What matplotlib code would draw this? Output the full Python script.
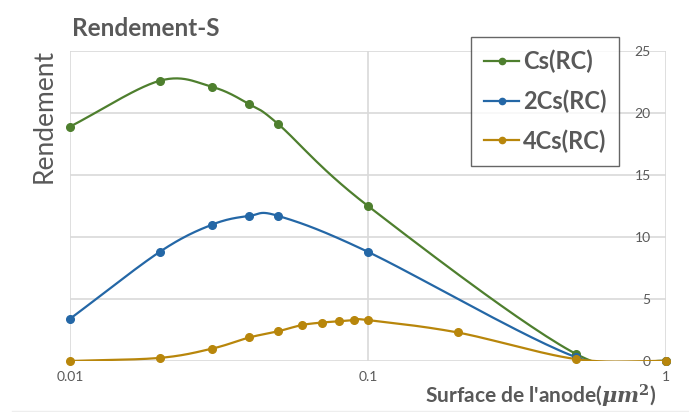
import numpy as np
import matplotlib
matplotlib.use("Agg")
import matplotlib.pyplot as plt
from matplotlib.lines import Line2D

# ---- data ----
x_cs = [0.01, 0.02, 0.03, 0.04, 0.05, 0.1, 0.5, 1.0]
y_cs = [18.9, 22.6, 22.1, 20.7, 19.1, 12.5, 0.56, 0.0]

x_2cs = [0.01, 0.02, 0.03, 0.04, 0.05, 0.1, 0.5, 1.0]
y_2cs = [3.4, 8.8, 11.0, 11.7, 11.7, 8.8, 0.3, 0.0]

x_4cs = [0.01, 0.02, 0.03, 0.04, 0.05, 0.06, 0.07, 0.08, 0.09, 0.1, 0.2, 0.5, 1.0]
y_4cs = [0.0, 0.25, 1.0, 1.9, 2.4, 2.9, 3.1, 3.2, 3.3, 3.3, 2.3, 0.15, 0.0]

series_names = ["Cs(RC)", "2Cs(RC)", "4Cs(RC)"]
colors = ["#4E7F2E", "#2467A6", "#B8860B"]
yticks = [0, 5, 10, 15, 20, 25]
xticks = [0.01, 0.1, 1]
xtick_labels = ["0.01", "0.1", "1"]

GRAY = "#595959"
FONT = ["Lato", "DejaVu Sans"]
plt.rcParams["mathtext.fontset"] = "dejavuserif"


def smooth(xs, ys, n=30):
    """Catmull-Rom smoothing (like Excel smoothed lines) in log-x space."""
    lx = np.log10(np.asarray(xs, float))
    yv = np.asarray(ys, float)
    px = np.concatenate([[2 * lx[0] - lx[1]], lx, [2 * lx[-1] - lx[-2]]])
    py = np.concatenate([[2 * yv[0] - yv[1]], yv, [2 * yv[-1] - yv[-2]]])
    ox, oy = [], []
    t = np.linspace(0, 1, n)
    for i in range(1, len(px) - 2):
        p0x, p1x, p2x, p3x = px[i - 1:i + 3]
        p0y, p1y, p2y, p3y = py[i - 1:i + 3]
        c1x = p1x + (p2x - p0x) / 6
        c1y = p1y + (p2y - p0y) / 6
        c2x = p2x - (p3x - p1x) / 6
        c2y = p2y - (p3y - p1y) / 6
        bx = (1 - t) ** 3 * p1x + 3 * (1 - t) ** 2 * t * c1x + 3 * (1 - t) * t ** 2 * c2x + t ** 3 * p2x
        by = (1 - t) ** 3 * p1y + 3 * (1 - t) ** 2 * t * c1y + 3 * (1 - t) * t ** 2 * c2y + t ** 3 * p2y
        ox.extend(bx)
        oy.extend(by)
    return 10 ** np.array(ox), np.array(oy)


fig = plt.figure(figsize=(6.89, 4.12), dpi=100)
ax = fig.add_axes([70 / 689, 1 - 361 / 412, 596 / 689, 310 / 412])

for xs, ys, c in zip([x_cs, x_2cs, x_4cs], [y_cs, y_2cs, y_4cs], colors):
    sx, sy = smooth(xs, ys)
    ax.plot(sx, sy, color=c, lw=1.6, zorder=3)
    ax.plot(xs, ys, ls="none", marker="o", ms=5.5, color=c, zorder=4, clip_on=False)

ax.set_xscale("log")
ax.set_xlim(0.01, 1)
ax.set_ylim(0, 25)
ax.set_xticks(xticks)
ax.set_xticklabels(xtick_labels)
ax.xaxis.set_minor_locator(matplotlib.ticker.NullLocator())
ax.set_yticks(yticks)

ax.grid(True, color="#D9D9D9", lw=1.2, zorder=0)
ax.set_axisbelow(True)
for s in ax.spines.values():
    s.set_visible(False)

ax.yaxis.tick_right()
ax.tick_params(axis="y", length=0, pad=-11, labelsize=10, labelcolor=GRAY)
for lab in ax.get_yticklabels():
    lab.set_horizontalalignment("right")
    lab.set_fontfamily(FONT)
ax.tick_params(axis="x", length=0, pad=7, labelsize=10, labelcolor=GRAY)
for lab in ax.get_xticklabels():
    lab.set_fontfamily(FONT)

# titles
fig.text(72 / 689, 1 - 28 / 412, "Rendement-S", fontsize=17.5, fontweight="bold",
         color=GRAY, family=FONT, ha="left", va="center")
fig.text(44 / 689, 1 - 116 / 412, "Rendement", fontsize=19, color=GRAY, family=FONT,
         rotation=90, ha="center", va="center")
fig.text(656 / 689, 1 - 396 / 412, r"Surface de l'anode($\mathbfit{\mu m}^{\mathbf{2}}$)",
         fontsize=15, fontweight="bold", color=GRAY, family=FONT, ha="right", va="center")

# legend
handles = [Line2D([0], [0], color=c, lw=1.6, marker="o", ms=4.5) for c in colors]
leg = ax.legend(handles, series_names, loc="upper left",
                bbox_to_anchor=((471 - 70) / 596, (361 - 37) / 310),
                frameon=True, fancybox=False, edgecolor="#404040",
                prop={"family": FONT, "weight": "bold", "size": 17},
                labelcolor=GRAY, handlelength=1.5, handletextpad=0.15,
                labelspacing=0.68, borderpad=0.55, borderaxespad=0)
leg.get_frame().set_linewidth(1.0)
leg.set_zorder(5)

fig.add_artist(Line2D([12 / 689, 1], [1 - 411 / 412] * 2, color="#EEEEEE", lw=1))

fig.savefig("out.png", dpi=100)
